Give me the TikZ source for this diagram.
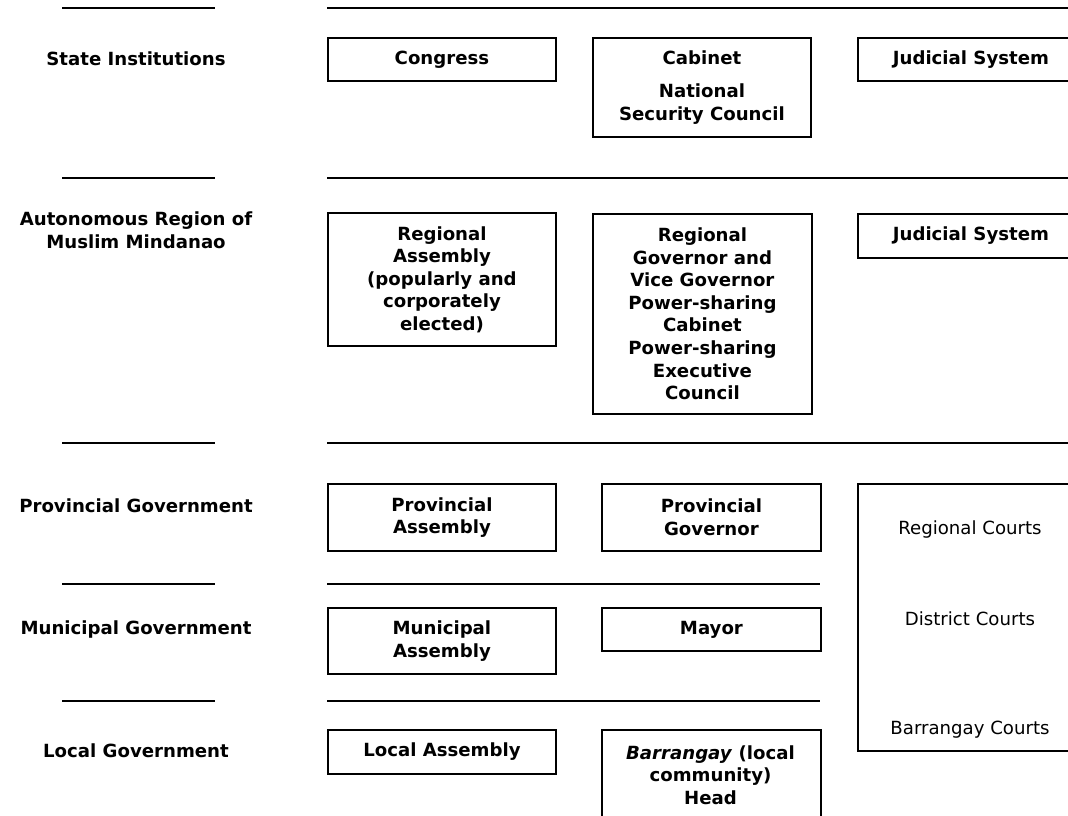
\documentclass[tikz,border=0pt]{standalone}
\usepackage{fontspec}
\setmainfont{DejaVu Sans}
\newcommand{\chartfont}{\fontsize{13.6}{16.9}\selectfont}
\tikzstyle{box} = [draw, line width=1.4pt, anchor=north west, inner sep=0pt, align=center, font=\chartfont\bfseries]
\tikzstyle{level} = [align=center, font=\chartfont\bfseries]
\tikzstyle{court} = [align=center, font=\chartfont]
\tikzstyle{rule} = [line width=1.5pt]

\begin{document}
\begin{tikzpicture}[x=0.75pt, y=-0.75pt]
        \useasboundingbox (0,0) rectangle (1068,815);
        \clip (0,0) rectangle (1068,815);
        
        %separating rules
        \foreach \y in {8,178,443,584,701}
            \draw [rule] (62,\y) -- (215,\y);
        \foreach \y in {8,178,443}
            \draw [rule] (327,\y) -- (1075,\y);
        \foreach \y in {584,701}
            \draw [rule] (327,\y) -- (820,\y);
        
        %levels
        \node at (136,59) [level] (state) {State Institutions};
        \node at (136,230) [level] (armm) {Autonomous Region of\\Muslim Mindanao};
        \node at (136,506) [level] (prov) {Provincial Government};
        \node at (136,629) [level] (muni) {Municipal Government};
        \node at (136,751) [level] (local) {Local Government};
        
        %state institutions
        \node at (327,37) [box, minimum width=171pt, minimum height=32.25pt] (congress) {Congress};
        \node at (592,37) [box, minimum width=163.5pt, minimum height=74.25pt] (cabinet) {Cabinet\\[8.25pt]National\\Security Council};
        \node at (857,37) [box, minimum width=169.5pt, minimum height=32.25pt] (judicial) {Judicial System};
        
        %autonomous region
        \node at (327,212) [box, minimum width=171pt, minimum height=99.75pt] (regass) {Regional\\Assembly\\(popularly and\\corporately\\elected)};
        \node at (592,213) [box, minimum width=164.25pt, minimum height=150pt] (reggov) {Regional\\Governor and\\Vice Governor\\Power-sharing\\Cabinet\\Power-sharing\\Executive\\Council};
        \node at (857,213) [box, minimum width=169.5pt, minimum height=33pt] (regjud) {Judicial System};
        
        %provincial, municipal and local
        \node at (327,483) [box, minimum width=171pt, minimum height=50.25pt] (provass) {Provincial\\Assembly};
        \node at (601,483) [box, minimum width=164.25pt, minimum height=50.25pt] (provgov) {Provincial\\Governor};
        \node at (327,607) [box, minimum width=171pt, minimum height=49.5pt] (muniass) {Municipal\\Assembly};
        \node at (601,607) [box, minimum width=164.25pt, minimum height=32.25pt] (mayor) {Mayor};
        \node at (327,729) [box, minimum width=171pt, minimum height=33pt] (localass) {Local Assembly};
        \node at (601,729) [box, minimum width=164.25pt, minimum height=82.5pt] (barrangay) {};
        \node at (710.5,775) [level] (barrangaytxt) {\textit{Barrangay} (local\\community)\\Head};
        
        %courts
        \node at (857,483) [box, minimum width=169.5pt, minimum height=200.25pt] (courts) {};
        \node at (970,529) [court] (regcourts) {Regional Courts};
        \node at (970,619) [court] (distcourts) {District Courts};
        \node at (970,730) [court] (barcourts) {Barrangay Courts};
    
    \end{tikzpicture}
\end{document}
